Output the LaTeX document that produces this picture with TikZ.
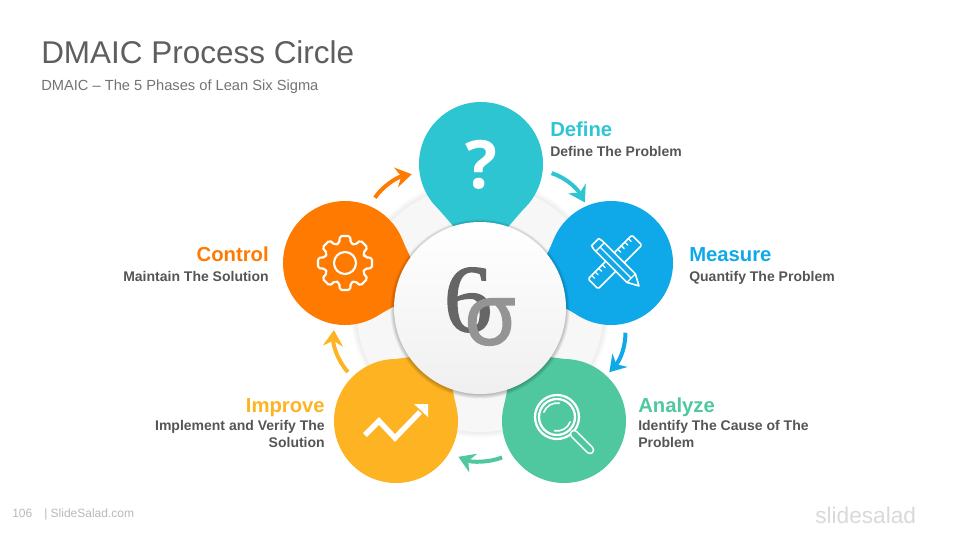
\documentclass[tikz,border=0pt]{standalone}
\usepackage{fontspec}
\setmainfont{Liberation Sans}
\newfontfamily\ringfont[FakeBold=2]{Open Sans}
\newfontfamily\sixfont[FakeBold=1.6]{Liberation Serif}
\newfontfamily\askfont{Open Sans}
\usetikzlibrary{arrows.meta}
\definecolor{defcol}{HTML}{2EC5D3}
\definecolor{meacol}{HTML}{0FA9EA}
\definecolor{anacol}{HTML}{4FC8A0}
\definecolor{impcol}{HTML}{FDB322}
\definecolor{concol}{HTML}{FF7A00}
\definecolor{subcol}{HTML}{555555}
\tikzset{
phasedot/.style={circle,inner sep=0pt,outer sep=0pt,minimum size=93pt},
phasehead/.style={inner sep=0pt,font=\fontsize{15.2}{18}\selectfont\bfseries},
phasesub/.style={inner sep=0pt,text=subcol,font=\fontsize{10.5}{12.8}\selectfont\bfseries},
flowarrow/.style={line width=3pt,shorten <=7pt,shorten >=4pt,
  -{Stealth[length=12pt,width=15pt,inset=4pt]}},
iconline/.style={white,line width=1.6pt,line join=round,line cap=round}
}
\begin{document}
\begin{tikzpicture}[x=0.75pt,y=-0.75pt]
\useasboundingbox (0,0) rectangle (960,540);
\node[anchor=west,inner sep=0pt,text=subcol!95,font=\fontsize{23.6}{28}\selectfont] (title) at (41,52) {DMAIC Process Circle};
\node[anchor=west,inner sep=0pt,text=black!55,font=\fontsize{11}{13}\selectfont] (subtitle) at (41,87) {DMAIC – The 5 Phases of Lean Six Sigma};
\node[anchor=west,inner sep=0pt,text=black!28,font=\fontsize{9}{11}\selectfont] (pageno) at (12,514) {106\hspace{9pt}| SlideSalad.com};
\node[anchor=west,inner sep=0pt,text=black!15,font=\fontsize{17}{20}\selectfont] (brand) at (815,515) {slidesalad};
% ring behind the phases
\foreach \i in {1,...,6}
  \fill[black,opacity=0.012] (480,308) circle (124+\i);
\fill[black!3] (480,308) circle (124);
% phases
\foreach \name/\col/\x/\y/\rot/\ax/\ay/\bx in {define/defcol/481/164/0/46/41/27,measure/meacol/611/263/-72/41/46/23,
    analyze/anacol/564/421/-144/41/46/23,improve/impcol/396/421/144/41/46/23,control/concol/345/263/72/41/46/23}{
  \node[phasedot,fill=\col] (\name) at (\x,\y) {};
  \begin{scope}[shift={(\x,\y)},rotate=\rot]
    \fill[\col] (-\ax,\ay) -- (-\bx,63) -- (-15,80) -- (15,80) -- (\bx,63) -- (\ax,\ay) -- cycle;
  \end{scope}
}
% centre
\foreach \i in {1,...,7}
  \fill[black,opacity=0.035] (480,309) circle (85.5+0.6*\i);
\shade[top color=white,bottom color=black!6] (480,308) circle (86);
\node[inner sep=0pt,text=black!60,font=\sixfont\fontsize{72}{80}\selectfont] (six) at (468,300) {6};
\node[inner sep=0pt,text=black!42,font=\ringfont\fontsize{64}{80}\selectfont] (sigma) at (490,322) {σ};
% arrows
\draw[flowarrow,concol,shorten <=7.5pt,shorten >=6pt] (control.67) to[bend left=22] (define.188);
\draw[flowarrow,defcol,shorten >=3pt] (define.-6) to[bend left=22] (measure.113);
\draw[flowarrow,meacol,shorten >=3.4pt] (measure.-77) to[bend left=22] (analyze.47);
\draw[flowarrow,anacol,shorten <=7.5pt,shorten >=7.5pt] (analyze.212) to[bend left=22] (improve.-31);
\draw[flowarrow,impcol,shorten <=5pt,shorten >=4.5pt] (improve.135) to[bend left=22] (control.260);
% icons
\node[inner sep=0pt,text=white,font=\askfont\bfseries\fontsize{50}{56}\selectfont] (ask) at (481,165) {?};
\begin{scope}[shift={(345,263)}]
  \draw[iconline,rounded corners=1.5pt] (-16:20.5)
    foreach \a in {0,45,...,315} { -- (\a-16:20.5) -- (\a-11:27.5) -- (\a+11:27.5) -- (\a+16:20.5) } -- cycle;
  \draw[iconline] (0,0) circle (11);
\end{scope}
\begin{scope}[shift={(615,262)},rotate=-45]
  \draw[iconline,line width=1.2pt,rounded corners=1pt] (-7,-31) rectangle (7,31);
  \foreach \t in {-26,-21,-16,-11,11,16,21,26}
    \draw[iconline,line width=1pt] (-7,\t) -- (-3,\t);
\end{scope}
\begin{scope}[shift={(617,264)},rotate=-45]
  \filldraw[iconline,line width=1.2pt,fill=meacol] (-31,-5) -- (-27,-6) -- (20,-6) -- (31,0) -- (20,6) -- (-27,6) -- (-31,5) -- cycle;
  \draw[iconline,line width=1pt] (-24,-6) -- (-24,6) (-24,0) -- (20,0) (20,-6) -- (20,6);
\end{scope}
\draw[white,line width=1.7pt] (557,417) circle (22) circle (18);
\draw[white,line width=1.2pt,line cap=round] (557,417) ++(200:14) arc[start angle=200,end angle=280,radius=14];
\draw[white,line width=1.2pt,line cap=round] (557,417) ++(20:14) arc[start angle=20,end angle=100,radius=14];
\draw[white,line width=6.5pt,line cap=round] (574,434) -- (590,450);
\draw[anacol,line width=4pt,line cap=round] (574,434) -- (590,450);
\draw[white,line width=4pt,line join=miter] (365,435) -- (379,421) -- (395,438) -- (420,412);
\fill[white] (428,404) -- (428,417) -- (414,404) -- cycle;
% labels
\node[phasehead,anchor=base west,text=defcol] (definehead) at (550,136) {Define};
\node[phasesub,anchor=base west] (definesub) at (550,156) {Define The Problem};
\node[phasehead,anchor=base west,text=meacol] (measurehead) at (689,261) {Measure};
\node[phasesub,anchor=base west] (measuresub) at (689,281) {Quantify The Problem};
\node[phasehead,anchor=base west,text=anacol] (analyzehead) at (638,412) {Analyze};
\node[phasesub,anchor=north west,align=left] (analyzesub) at (638,420) {Identify The Cause of The\\Problem};
\node[phasehead,anchor=base east,text=impcol] (improvehead) at (325,412) {Improve};
\node[phasesub,anchor=north east,align=right] (improvesub) at (325,420) {Implement and Verify The\\Solution};
\node[phasehead,anchor=base east,text=concol] (controlhead) at (269,261) {Control};
\node[phasesub,anchor=base east] (controlsub) at (269,281) {Maintain The Solution};
\end{tikzpicture}
\end{document}
